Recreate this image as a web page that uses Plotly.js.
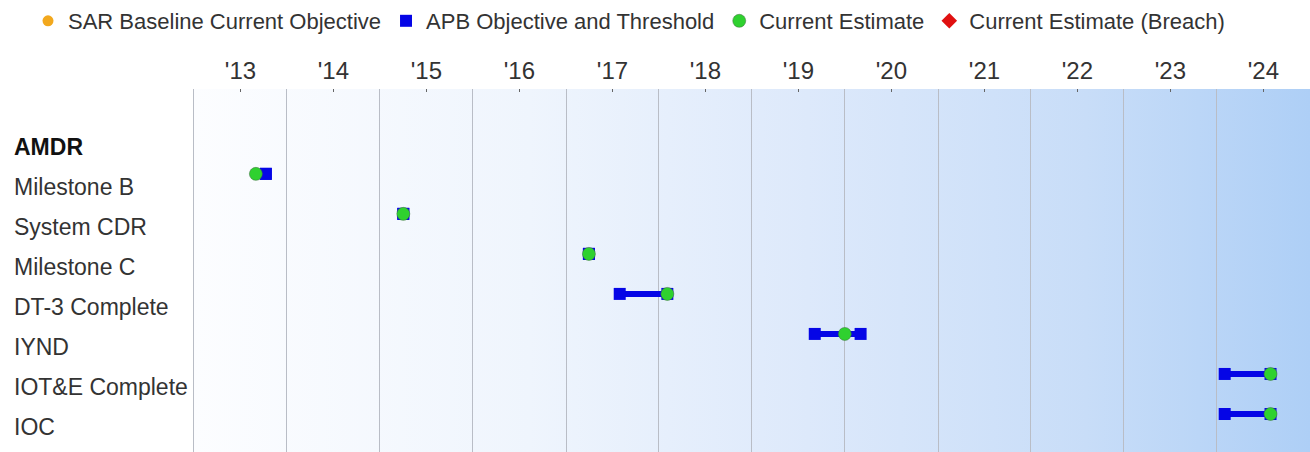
<!DOCTYPE html>
<html>
<head>
<meta charset="utf-8">
<script src="https://cdn.plot.ly/plotly-3.0.1.min.js"></script>
<style>
  html, body { margin: 0; padding: 0; background: #ffffff; }
  #chart { width: 1310px; height: 452px; }
</style>
</head>
<body>
<div id="chart"></div>
<script>
// ---- Data ----
const milestones = ['AMDR', 'Milestone B', 'System CDR', 'Milestone C', 'DT-3 Complete', 'IYND', 'IOT&E Complete', 'IOC'];
const headerRows = ['AMDR'];
const apbObjective = [null, '2013-10-10', '2015-04-03', '2017-04-01', '2017-07-31', '2019-09-05', '2024-02-01', '2024-02-01'];
const apbThreshold = [null, '2013-10-10', '2015-04-03', '2017-04-01', '2018-02-03', '2020-03-03', '2024-07-30', '2024-07-30'];
const currentEstimate = [null, '2013-09-01', '2015-04-03', '2017-04-01', '2018-02-03', '2020-01-01', '2024-07-30', '2024-07-30'];
const sarBaseline = [null, null, null, null, null, null, null, null];
const breachEstimate = [null, null, null, null, null, null, null, null];
const xRange = ['2013-01-01', '2025-01-01'];

// ---- Styles ----
const FONT = 'Liberation Sans, Arial, sans-serif';
const BLUE = '#0505e6';
const GREEN = '#2fd12f';
const ORANGE = '#f2a81d';
const RED = '#e01010';

// connecting lines objective -> threshold (null separated)
const lineX = [], lineY = [];
milestones.forEach((m, i) => {
  if (apbObjective[i] && apbThreshold[i]) {
    lineX.push(apbObjective[i], apbThreshold[i], null);
    lineY.push(m, m, null);
  }
});

const apbX = [], apbY = [];
milestones.forEach((m, i) => {
  if (apbObjective[i]) { apbX.push(apbObjective[i]); apbY.push(m); }
  if (apbThreshold[i]) { apbX.push(apbThreshold[i]); apbY.push(m); }
});

const traces = [
  {
    type: 'scatter', mode: 'markers', name: 'SAR Baseline Current Objective',
    x: sarBaseline, y: milestones,
    marker: { symbol: 'circle', color: ORANGE, size: 11 },
    showlegend: true
  },
  {
    type: 'scatter', mode: 'lines', x: lineX, y: lineY,
    line: { color: BLUE, width: 6 }, showlegend: false, hoverinfo: 'skip'
  },
  {
    type: 'scatter', mode: 'markers', name: 'APB Objective and Threshold',
    x: apbX, y: apbY,
    marker: { symbol: 'square', color: BLUE, size: 12 }
  },
  {
    type: 'scatter', mode: 'markers', name: 'Current Estimate',
    x: currentEstimate, y: milestones,
    marker: { symbol: 'circle', color: GREEN, size: 13, line: { color: 'rgba(60,110,60,0.5)', width: 1 } }
  },
  {
    type: 'scatter', mode: 'markers', name: 'Current Estimate (Breach)',
    x: breachEstimate, y: milestones,
    marker: { symbol: 'diamond', color: RED, size: 12 },
    showlegend: true
  }
];

// gradient background image
const svg = '<svg xmlns="http://www.w3.org/2000/svg" width="1000" height="100" preserveAspectRatio="none">' +
  '<defs><linearGradient id="g" x1="0" y1="0" x2="1" y2="0">' +
  '<stop offset="0" stop-color="#fcfdff"/>' +
  '<stop offset="0.3" stop-color="#eff5fd"/>' +
  '<stop offset="0.55" stop-color="#dde9fb"/>' +
  '<stop offset="0.8" stop-color="#c8ddf8"/>' +
  '<stop offset="1" stop-color="#aecff6"/>' +
  '</linearGradient></defs><rect width="1000" height="100" fill="url(#g)"/></svg>';
const bgSrc = 'data:image/svg+xml;utf8,' + encodeURIComponent(svg);

const W = 1310, H = 452, ML = 194, MT = 88;
const plotW = W - ML;

const annotations = milestones.map(m => ({
  x: (12 - ML) / plotW, xref: 'paper', xanchor: 'left',
  y: m, yref: 'y', yanchor: 'middle', yshift: -13,
  text: headerRows.includes(m) ? '<b>' + m + '</b>' : m,
  showarrow: false,
  font: { family: FONT, size: 23, color: headerRows.includes(m) ? '#111' : '#333' }
}));

const layout = {
  width: W, height: H,
  margin: { l: ML, r: 0, t: MT, b: 0, pad: 0 },
  paper_bgcolor: '#ffffff',
  plot_bgcolor: 'rgba(0,0,0,0)',
  font: { family: FONT, color: '#333' },
  showlegend: true,
  legend: {
    orientation: 'h', x: (28 - ML) / plotW, xanchor: 'left',
    y: 1 + 68 / (H - MT), yanchor: 'middle',
    font: { family: FONT, size: 22, color: '#333' },
    bgcolor: 'rgba(0,0,0,0)', itemwidth: 30
  },
  xaxis: {
    type: 'date', side: 'top', range: xRange,
    tick0: '2013-01-01', dtick: 'M12', tickformat: "'%y",
    ticklabelmode: 'period', ticks: '',
    showgrid: true, gridcolor: '#b9bdc6', gridwidth: 1,
    zeroline: false, showline: false,
    tickfont: { family: FONT, size: 24, color: '#333' },
    ticklabelstandoff: 4,
    minor: { tick0: '2013-07-02', dtick: 'M12', ticks: 'inside', ticklen: 3, tickcolor: '#666', showgrid: false },
    fixedrange: true
  },
  yaxis: {
    type: 'category', categoryorder: 'array', categoryarray: milestones,
    range: [7.95, -1.12],
    showticklabels: false, ticks: '', showgrid: false, zeroline: false,
    showline: true, linecolor: '#b9bdc6', linewidth: 1,
    fixedrange: true
  },
  images: [{
    source: bgSrc, xref: 'paper', yref: 'paper', x: 0, y: 1, sizex: 1, sizey: 1,
    sizing: 'stretch', xanchor: 'left', yanchor: 'top', layer: 'below'
  }],
  annotations: annotations
};

Plotly.newPlot('chart', traces, layout, { displayModeBar: false, staticPlot: true });
</script>
</body>
</html>
